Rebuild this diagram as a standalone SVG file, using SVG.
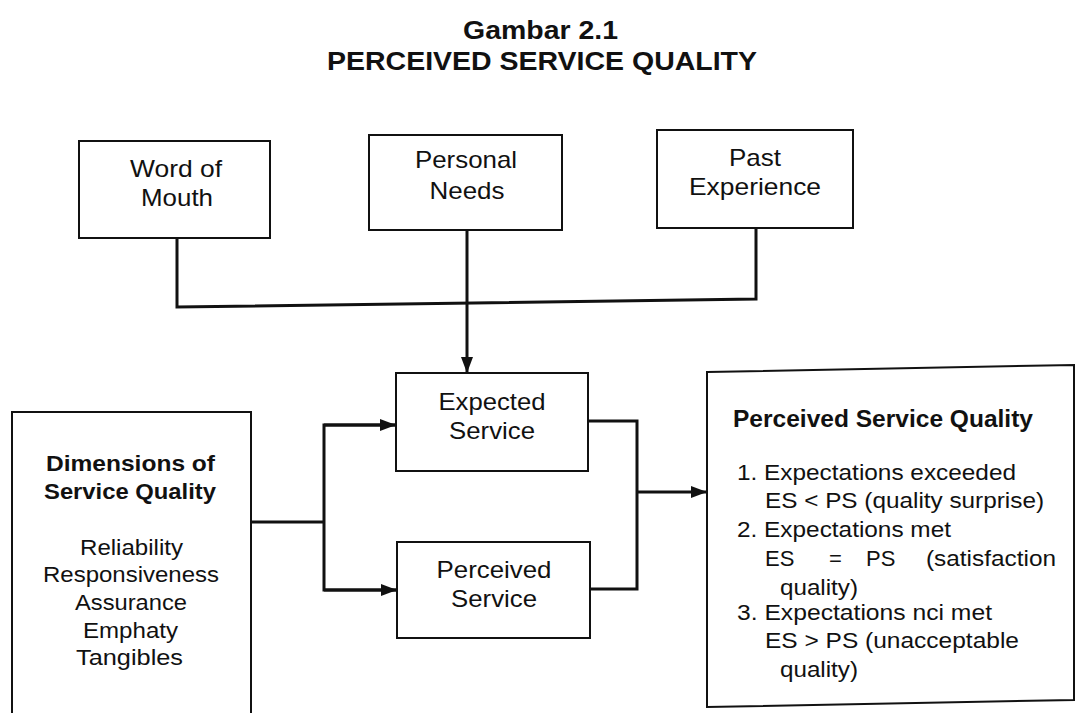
<svg xmlns="http://www.w3.org/2000/svg" width="1076" height="713" viewBox="0 0 1076 713">
  <defs>
    <style>
      text { font-family: "Liberation Sans", Arial, sans-serif; fill: #111; }
      .title { font-size: 25px; font-weight: bold; }
      .lbl { font-size: 24px; text-anchor: middle; }
      .hd { font-size: 22px; font-weight: bold; }
      .item { font-size: 22px; }
      .box { fill: none; stroke: #111; stroke-width: 2; }
      .wire { fill: none; stroke: #111; stroke-width: 3; stroke-linejoin: miter; }
    </style>
    <marker id="arrow" markerUnits="userSpaceOnUse" markerWidth="16" markerHeight="12" refX="16" refY="6" orient="auto">
      <path d="M0,0 L16,6 L0,12 Z" fill="#111"/>
    </marker>
  </defs>

  <rect width="1076" height="713" fill="#fff"/>

  <!-- heading -->
  <g id="title">
    <text class="title" x="463" y="39" textLength="155" lengthAdjust="spacingAndGlyphs">Gambar 2.1</text>
    <text class="title" x="327" y="70" textLength="430" lengthAdjust="spacingAndGlyphs">PERCEIVED SERVICE QUALITY</text>
  </g>

  <!-- connectors -->
  <g id="connectors">
    <polyline class="wire" points="177,238 177,307 756,299 756,228"/>
    <line class="wire" x1="467" y1="230" x2="467" y2="373" marker-end="url(#arrow)"/>
    <line class="wire" x1="251" y1="522" x2="324" y2="522"/>
    <polyline class="wire" points="396,425 324,425 324,590 397,590"/>
    <line class="wire" x1="324" y1="425" x2="396" y2="425" marker-end="url(#arrow)"/>
    <line class="wire" x1="324" y1="590" x2="397" y2="590" marker-end="url(#arrow)"/>
    <polyline class="wire" points="588,421 637,421 637,589 590,589"/>
    <line class="wire" x1="637" y1="492" x2="707" y2="492" marker-end="url(#arrow)"/>
  </g>

  <g id="word-of-mouth">
    <rect class="box" x="79" y="141" width="191" height="97"/>
    <text class="lbl" x="176" y="177" textLength="92" lengthAdjust="spacingAndGlyphs">Word of</text>
    <text class="lbl" x="177" y="206" textLength="72" lengthAdjust="spacingAndGlyphs">Mouth</text>
  </g>

  <g id="personal-needs">
    <rect class="box" x="369" y="135" width="193" height="95"/>
    <text class="lbl" x="466" y="168" textLength="102" lengthAdjust="spacingAndGlyphs">Personal</text>
    <text class="lbl" x="467" y="199" textLength="75" lengthAdjust="spacingAndGlyphs">Needs</text>
  </g>

  <g id="past-experience">
    <rect class="box" x="657" y="130" width="196" height="98"/>
    <text class="lbl" x="755" y="166" textLength="52" lengthAdjust="spacingAndGlyphs">Past</text>
    <text class="lbl" x="755" y="195" textLength="132" lengthAdjust="spacingAndGlyphs">Experience</text>
  </g>

  <g id="expected-service">
    <rect class="box" x="396" y="373" width="192" height="98"/>
    <text class="lbl" x="492" y="410" textLength="107" lengthAdjust="spacingAndGlyphs">Expected</text>
    <text class="lbl" x="492" y="439" textLength="86" lengthAdjust="spacingAndGlyphs">Service</text>
  </g>

  <g id="perceived-service">
    <rect class="box" x="397" y="542" width="193" height="96"/>
    <text class="lbl" x="494" y="578" textLength="115" lengthAdjust="spacingAndGlyphs">Perceived</text>
    <text class="lbl" x="494" y="607" textLength="86" lengthAdjust="spacingAndGlyphs">Service</text>
  </g>

  <g id="dimensions">
    <rect class="box" x="12" y="412" width="239" height="310"/>
    <text class="hd" x="46" y="471" textLength="169" lengthAdjust="spacingAndGlyphs">Dimensions of</text>
    <text class="hd" x="44" y="499" textLength="172" lengthAdjust="spacingAndGlyphs">Service Quality</text>
    <text class="item" x="80" y="555" textLength="103" lengthAdjust="spacingAndGlyphs">Reliability</text>
    <text class="item" x="43" y="582" textLength="176" lengthAdjust="spacingAndGlyphs">Responsiveness</text>
    <text class="item" x="75" y="610" textLength="112" lengthAdjust="spacingAndGlyphs">Assurance</text>
    <text class="item" x="83" y="638" textLength="95" lengthAdjust="spacingAndGlyphs">Emphaty</text>
    <text class="item" x="76" y="665" textLength="107" lengthAdjust="spacingAndGlyphs">Tangibles</text>
  </g>

  <g id="perceived-service-quality">
    <polygon class="box" points="707,372 1074,365 1074,700 707,707"/>
    <text class="hd" x="733" y="427" style="font-size:23px" textLength="300" lengthAdjust="spacingAndGlyphs">Perceived Service Quality</text>
    <text class="item" x="737" y="480" textLength="279" lengthAdjust="spacingAndGlyphs">1. Expectations exceeded</text>
    <text class="item" x="765" y="508" textLength="279" lengthAdjust="spacingAndGlyphs">ES &lt; PS (quality surprise)</text>
    <text class="item" x="737" y="537" textLength="214" lengthAdjust="spacingAndGlyphs">2. Expectations met</text>
    <text class="item" x="765" y="566">ES</text>
    <text class="item" x="829" y="566">=</text>
    <text class="item" x="866" y="566">PS</text>
    <text class="item" x="926" y="566" textLength="130" lengthAdjust="spacingAndGlyphs">(satisfaction</text>
    <text class="item" x="780" y="595" textLength="78" lengthAdjust="spacingAndGlyphs">quality)</text>
    <text class="item" x="737" y="620" textLength="255" lengthAdjust="spacingAndGlyphs">3. Expectations nci met</text>
    <text class="item" x="765" y="648" textLength="254" lengthAdjust="spacingAndGlyphs">ES &gt; PS (unacceptable</text>
    <text class="item" x="780" y="677" textLength="78" lengthAdjust="spacingAndGlyphs">quality)</text>
  </g>
</svg>
